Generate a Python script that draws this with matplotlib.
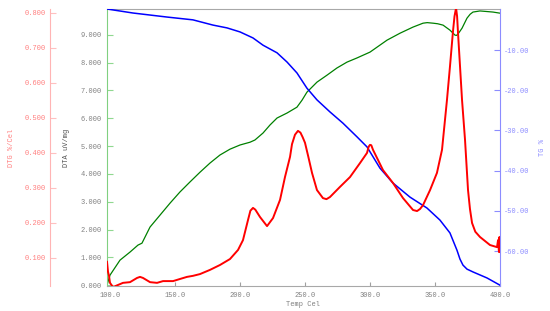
import matplotlib
matplotlib.use("Agg")
import matplotlib.pyplot as plt

plt.rcParams['font.family'] = ['Liberation Mono', 'DejaVu Sans']

# DTA (uV/mg), green
dta_t = [97.7, 100, 107.7, 115.4, 121.5, 124.6, 130.8, 138.5, 146.2, 153.8, 161.5,
         169.2, 176.9, 184.6, 192.3, 200, 207.7, 211.5, 217.7, 223.1, 228.5, 236.2,
         243.8, 247.7, 251.5, 259.2, 266.9, 274.6, 282.3, 290, 300, 313.1, 323.1,
         333.1, 340.8, 344, 348.5, 352, 356.2, 361.5, 365.4, 366.5, 367.7, 370.8,
         374.6, 377, 379.2, 384.6, 394.6, 400]
dta_v = [0.0, 0.36, 0.90, 1.19, 1.44, 1.51, 2.09, 2.52, 2.95, 3.35, 3.71,
         4.06, 4.39, 4.68, 4.89, 5.04, 5.14, 5.22, 5.47, 5.76, 6.01, 6.19,
         6.40, 6.65, 6.94, 7.30, 7.55, 7.81, 8.02, 8.17, 8.38, 8.81, 9.06,
         9.28, 9.42, 9.44, 9.42, 9.40, 9.35, 9.17, 8.99, 8.98, 9.03, 9.24,
         9.60, 9.74, 9.82, 9.86, 9.82, 9.78]

# TG (%), blue
tg_t = [97.7, 117.7, 143.8, 163.8, 179.2, 190, 200, 210, 217.7, 228.5, 236.2,
        243.8, 251.5, 259.2, 269.2, 279.2, 290, 297.7, 307.7, 317.7, 330.8,
        343.8, 353.8, 361.5, 366.9, 369.2, 371.5, 374.6, 379.2, 390, 400]
tg_v = [0.2, -0.8, -1.8, -2.5, -3.8, -4.5, -5.5, -7.0, -8.8, -10.7, -13.0,
        -15.7, -19.5, -22.4, -25.4, -28.2, -31.6, -34.1, -39.4, -43.1, -46.6,
        -49.3, -52.3, -55.5, -59.8, -62.0, -63.5, -64.5, -65.2, -66.7, -68.5]

# DTG (%/Cel), red
dtg_t = [97.7, 98.5, 99.2, 100, 102.3, 106.2, 110, 115.4, 120.8, 123.1, 125.4,
         130.8, 136.2, 140.8, 148.5, 153.8, 159.2, 163.8, 169.2, 176.9, 184.6,
         192.3, 198.5, 202.3, 206.2, 208, 210, 211.8, 215.4, 220.8, 225.4, 230.8,
         234.6, 238.5, 240, 242.3, 244.6, 246.5, 248.2, 250, 252.5, 255.4, 259.2,
         263.8, 266.5, 269.2, 276.9, 284.6, 292.3, 297.7, 299, 300, 301, 302.3,
         310, 317.7, 325.4, 333.1, 336.2, 338.5, 340.8, 346.2, 351.5, 355.4,
         359.2, 361.5, 363.8, 365, 366.2, 367, 367.7, 370.8, 373.1, 375.4, 376.9,
         378.5, 381, 384.6, 392.3, 397.7, 398.5, 399.2, 399.6, 400]
dtg_v = [0.089, 0.06, 0.05, 0.029, 0.017, 0.023, 0.029, 0.031, 0.043, 0.046, 0.043,
         0.031, 0.029, 0.034, 0.034, 0.040, 0.046, 0.049, 0.054, 0.066, 0.080,
         0.097, 0.123, 0.151, 0.209, 0.235, 0.243, 0.238, 0.217, 0.191, 0.214, 0.266,
         0.331, 0.389, 0.425, 0.452, 0.463, 0.458, 0.445, 0.429, 0.390, 0.343, 0.294,
         0.271, 0.268, 0.274, 0.303, 0.331, 0.371, 0.400, 0.418, 0.423, 0.422, 0.409,
         0.351, 0.314, 0.271, 0.237, 0.234, 0.240, 0.251, 0.294, 0.343, 0.409,
         0.551, 0.646, 0.746, 0.790, 0.814, 0.790, 0.743, 0.551, 0.437, 0.294, 0.240,
         0.200, 0.175, 0.160, 0.137, 0.131, 0.151, 0.117, 0.160, 0.117]

x_ticks = [100, 150, 200, 250, 300, 350, 400]
dta_ticks = [0, 1, 2, 3, 4, 5, 6, 7, 8, 9]
dtg_ticks = [0.1, 0.2, 0.3, 0.4, 0.5, 0.6, 0.7, 0.8]
tg_ticks = [-10, -20, -30, -40, -50, -60]

fs = 5
gray = '#808080'
pink = '#ff7f7f'
lblue = '#8c8cff'

fig = plt.figure(figsize=(5.5, 3.11), dpi=100)
ax = fig.add_axes([107 / 550, 1 - 286 / 311, 393 / 550, 277 / 311])

# main DTA axis
ax.plot(dta_t, dta_v, color='#008000', lw=0.9)
ax.set_xlim(97.7, 400)
ax.set_ylim(-0.03, 9.93)
ax.set_xticks(x_ticks)
ax.set_xticklabels(['%.1f' % v for v in x_ticks])
ax.set_yticks(dta_ticks)
ax.set_yticklabels(['%.3f' % v for v in dta_ticks])
ax.tick_params(axis='x', direction='in', length=3, color='#a0a0a0', labelcolor=gray,
               labelsize=fs, pad=4)
ax.tick_params(axis='y', direction='in', length=4, color='#90d890', labelcolor=gray,
               labelsize=fs, pad=4)
ax.spines['left'].set_color('#80d080')
ax.spines['top'].set_color('#a8a8a8')
ax.spines['bottom'].set_color('#a8a8a8')
ax.spines['right'].set_visible(False)
ax.set_xlabel('Temp Cel', fontsize=fs, color=gray, labelpad=2)
ax.set_ylabel('DTA uV/mg', fontsize=fs, color='#505050')
ax.yaxis.set_label_coords(-0.095, 0.5)

# TG axis on the right
ax_tg = ax.twinx()
ax_tg.plot(tg_t, tg_v, color='#0000ff', lw=1.1)
ax_tg.set_ylim(-68.7, 0.2)
ax_tg.set_yticks(tg_ticks)
ax_tg.set_yticklabels(['%.2f' % v for v in tg_ticks])
ax_tg.tick_params(axis='y', direction='in', length=4, color=lblue, labelcolor=lblue,
                  labelsize=fs, pad=3)
for s in ['left', 'top', 'bottom']:
    ax_tg.spines[s].set_visible(False)
ax_tg.spines['right'].set_color(lblue)
ax_tg.set_ylabel('TG %', fontsize=fs, color=lblue)
ax_tg.yaxis.set_label_coords(1.098, 0.5)

# DTG axis further left
ax_dtg = ax.twinx()
ax_dtg.plot(dtg_t, dtg_v, color='#ff0000', lw=1.4)
ax_dtg.set_ylim(0.02, 0.811)
ax_dtg.yaxis.set_ticks_position('left')
ax_dtg.yaxis.set_label_position('left')
ax_dtg.spines['left'].set_position(('axes', -0.145))
ax_dtg.spines['left'].set_color('#ffb4b4')
for s in ['right', 'top', 'bottom']:
    ax_dtg.spines[s].set_visible(False)
ax_dtg.set_yticks(dtg_ticks)
ax_dtg.set_yticklabels(['%.3f' % v for v in dtg_ticks])
ax_dtg.tick_params(axis='y', direction='in', length=4, color='#ffc0c0', labelcolor=pink,
                   labelsize=fs, pad=3)
ax_dtg.set_ylabel('DTG %/Cel', fontsize=fs, color=pink)
ax_dtg.yaxis.set_label_coords(-0.233, 0.5)

fig.savefig('out.png', dpi=100)
